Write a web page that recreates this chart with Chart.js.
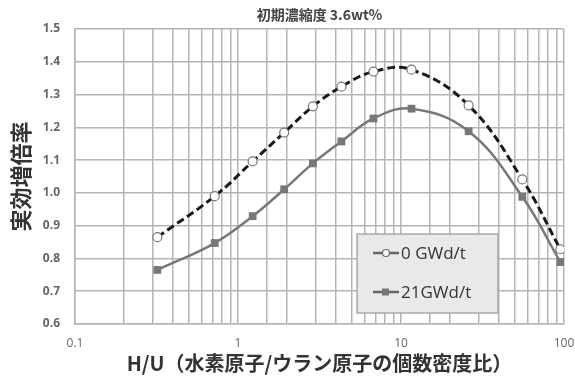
<!DOCTYPE html>
<html>
<head>
<meta charset="utf-8">
<script src="https://cdn.jsdelivr.net/npm/chart.js@4/dist/chart.umd.min.js"></script>
<style>
  html, body { margin: 0; padding: 0; background: #fff; }
  #wrap { width: 575px; height: 385px; }
</style>
</head>
<body>
<div id="wrap"><canvas id="myCanvas"></canvas></div>
<script>
// H/U values
const hu = [0.32, 0.72, 1.23, 1.92, 2.88, 4.31, 6.78, 11.6, 26.0, 55.5, 95];
const k0 = [0.865, 0.990, 1.096, 1.184, 1.264, 1.324, 1.370, 1.376, 1.267, 1.041, 0.828];
const k21 = [0.765, 0.847, 0.929, 1.011, 1.090, 1.157, 1.227, 1.257, 1.188, 0.988, 0.789];
const seriesNames = ['0 GWd/t', '21GWd/t'];
const xTickLabels = [0.1, 1, 10, 100];

const gridColor = '#b5b5b5';
const jp = '"Noto Sans CJK JP", "Noto Sans", sans-serif';

// legend box drawn inside the plot
const boxLegend = {
  id: 'boxLegend',
  afterDatasetsDraw(chart){
    const ctx = chart.ctx;
    const x = 357, y = 234, w = 141, h = 79;
    ctx.save();
    ctx.fillStyle = '#e9e9e9';
    ctx.strokeStyle = '#a8a8a8';
    ctx.lineWidth = 1.5;
    ctx.fillRect(x, y, w, h);
    ctx.strokeRect(x, y, w, h);
    chart.data.datasets.forEach((ds, i)=>{
      let cy = y + 19 + i * 39;
      ctx.strokeStyle = '#666';
      ctx.lineWidth = 2.5;
      ctx.setLineDash([]);
      ctx.beginPath();
      ctx.moveTo(x + 16, cy);
      ctx.lineTo(x + 42, cy);
      ctx.stroke();
      if(ds.pointStyle === 'rect'){
        ctx.fillStyle = '#777';
        ctx.fillRect(x + 25, cy - 3.5, 7, 7);
      }
      else{
        ctx.fillStyle = '#fff';
        ctx.lineWidth = 1.2;
        ctx.beginPath();
        ctx.arc(x + 29, cy, 3.5, 0, Math.PI * 2);
        ctx.fill();
        ctx.stroke();
      }
      ctx.fillStyle = '#333';
      ctx.font = '17px "Open Sans", "Noto Sans", sans-serif';
      ctx.textBaseline = 'middle';
      ctx.fillText(ds.label, x + 44, cy + 1);
    });
    ctx.restore();
  }
};

const ctx = document.querySelector('#myCanvas').getContext('2d');
const myChart = new Chart(ctx, {
  type: 'line',
  data: {
    datasets: [{
      label: seriesNames[0],
      data: hu.map((v, i)=>({x: v, y: k0[i]})),
      borderColor: '#1a1a1a',
      borderWidth: 3,
      borderDash: [8, 4],
      tension: 0.4,
      pointStyle: 'circle',
      pointRadius: 4.5,
      pointBackgroundColor: '#fff',
      pointBorderColor: '#777',
      pointBorderWidth: 1.2
    },{
      label: seriesNames[1],
      data: hu.map((v, i)=>({x: v, y: k21[i]})),
      borderColor: '#777',
      borderWidth: 2.5,
      tension: 0.4,
      pointStyle: 'rect',
      pointRadius: 5.5,
      pointBackgroundColor: '#777',
      pointBorderColor: '#777',
      pointBorderWidth: 0
    }]
  },
  options: {
    responsive: true,
    maintainAspectRatio: false,
    animation: false,
    layout: { padding: { left: 0, right: 11, top: 0, bottom: 0 } },
    plugins: {
      legend: { display: false },
      tooltip: { enabled: false }
    },
    scales: {
      x: {
        type: 'logarithmic',
        min: 0.1,
        max: 100,
        grid: { color: gridColor, lineWidth: 1.5, drawTicks: false },
        border: { color: gridColor, width: 1.5 },
        ticks: {
          autoSkip: false,
          maxRotation: 0,
          padding: 12,
          color: '#666',
          font: { family: '"Open Sans", sans-serif', size: 12 },
          callback: (v)=> xTickLabels.includes(+v.toPrecision(3)) ? String(+v.toPrecision(3)) : ''
        },
        title: {
          display: true,
          text: 'H/U（水素原子/ウラン原子の個数密度比）',
          color: '#333',
          font: { family: jp, size: 20, weight: 'bold' },
          padding: { top: 0, bottom: 10 }
        },
        afterFit: (scale)=>{
          scale.height = 61;
          scale.paddingLeft = 0;
          scale.paddingRight = 0;
        }
      },
      // top axis only carries the chart title, centred over the plot
      top: {
        position: 'top',
        type: 'linear',
        grid: { display: false },
        border: { display: false },
        ticks: { display: false },
        title: {
          display: true,
          text: '初期濃縮度 3.6wt%',
          color: '#444',
          font: { family: jp, size: 14, weight: 'bold' },
          padding: { top: 6, bottom: 6 }
        },
        afterFit: (scale)=>{
          scale.height = 29;
          scale.paddingLeft = 0;
          scale.paddingRight = 0;
        }
      },
      y: {
        min: 0.6,
        max: 1.5,
        grid: { color: gridColor, lineWidth: 1.5, drawTicks: false },
        border: { color: gridColor, width: 1.5 },
        ticks: {
          stepSize: 0.1,
          padding: 15,
          color: '#666',
          font: { family: '"Open Sans", sans-serif', size: 12, weight: 'bold' },
          callback: (v)=> v.toFixed(1)
        },
        title: {
          display: true,
          text: '実効増倍率',
          color: '#333',
          font: { family: jp, size: 22, weight: 'bold' },
          padding: { top: 7, bottom: 0 }
        },
        afterFit: (scale)=>{
          scale.width = 75;
          scale.paddingTop = 0;
          scale.paddingBottom = 0;
        }
      }
    }
  },
  plugins: [boxLegend]
});
</script>
</body>
</html>
